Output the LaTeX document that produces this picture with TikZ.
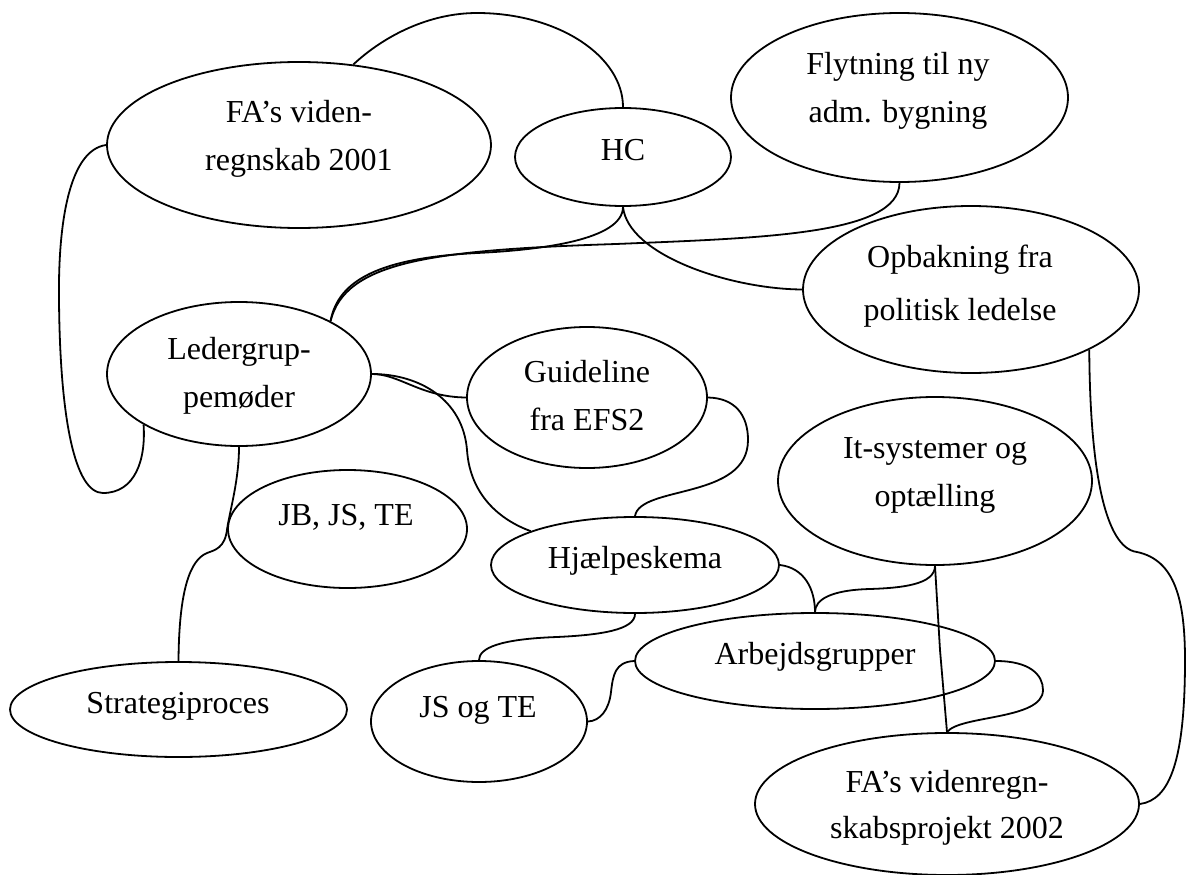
\documentclass[tikz,border=0pt]{standalone}
\usepackage{fontspec}
\setmainfont{Liberation Serif}
\usetikzlibrary{shapes.geometric}
\begin{document}
\begin{tikzpicture}[x=1pt,y=-1pt,
  bubble/.style={ellipse, draw, line width=1.8pt, inner sep=0pt},
  conn/.style={draw, line width=1.8pt},
  lbl/.style={anchor=base, align=center, inner sep=0pt,
              font=\fontsize{32}{48}\selectfont}]
\useasboundingbox (0,0) rectangle (1186,875);

% ellipses
\node[bubble, minimum width=384pt, minimum height=166pt] (fa1) at (299,145) {};
\node[bubble, minimum width=216pt, minimum height=98pt]  (hc)  at (623,157) {};
\node[bubble, minimum width=337pt, minimum height=169pt] (fly) at (899.5,97.5) {};
\node[bubble, minimum width=336pt, minimum height=167pt] (opb) at (971,289.5) {};
\node[bubble, minimum width=264pt, minimum height=144pt] (led) at (239,374) {};
\node[bubble, minimum width=240pt, minimum height=141pt] (gui) at (587,397.5) {};
\node[bubble, minimum width=314pt, minimum height=168pt] (its) at (935,481) {};
\node[bubble, minimum width=239pt, minimum height=118pt] (jb)  at (347.5,529) {};
\node[bubble, minimum width=288pt, minimum height=96pt]  (hjl) at (635,565) {};
\node[bubble, minimum width=360pt, minimum height=96pt]  (arb) at (815,661) {};
\node[bubble, minimum width=216pt, minimum height=121pt] (jst) at (479,721.5) {};
\node[bubble, minimum width=337pt, minimum height=95pt]  (str) at (178.5,709.5) {};
\node[bubble, minimum width=384pt, minimum height=142pt] (fa2) at (947,804) {};

% labels (base = baseline of the last line)
\node[lbl] (fa1t) at (299,170) {FA’s viden-\\regnskab 2001};
\node[lbl] (hct)  at (623,160) {HC};
\node[lbl] (flyt) at (898,122) {Flytning til ny\\adm. bygning};
\node[lbl] (opbt) at (960,320) {Opbakning fra\\[5pt]politisk ledelse};
\node[lbl] (ledt) at (239,407) {Ledergrup-\\pemøder};
\node[lbl] (guit) at (587,430) {Guideline\\fra EFS2};
\node[lbl] (itst) at (935,506) {It-systemer og\\optælling};
\node[lbl] (jbt)  at (346,525) {JB, JS, TE};
\node[lbl] (hjlt) at (635,568) {Hjælpeskema};
\node[lbl] (arbt) at (815,664) {Arbejdsgrupper};
\node[lbl] (jstt) at (478,717) {JS og TE};
\node[lbl] (strt) at (178,713) {Strategiproces};
\node[lbl] (fa2t) at (947,838) {FA’s videnregn-\\[-2pt]skabsprojekt 2002};

% connectors
\draw[conn] (fa1.56) .. controls (385,35) and (430,13) .. (477,13)
            .. controls (558,13) and (623,56) .. (hc.north);
\draw[conn] (fa1.west) .. controls (70,150) and (58,220) .. (59,300)
            .. controls (60,420) and (75,493) .. (103,493)
            .. controls (135,493) and (146,460) .. (led.208);
\draw[conn] (hc.south) .. controls (623,240) and (540,250) .. (477,253)
            .. controls (380,258) and (338,280) .. (led.30);
\draw[conn] (fly.south) .. controls (899,235) and (760,238) .. (616,244)
            .. controls (430,250) and (345,262) .. (led.30);
\draw[conn] (hc.south) .. controls (628,255) and (730,289) .. (opb.west);
\draw[conn] (led.east) .. controls (400,374) and (420,397) .. (gui.west);
\draw[conn] (led.east) .. controls (420,374) and (463,400) .. (467,450)
            .. controls (470,495) and (500,520) .. (hjl.162);
\draw[conn] (gui.east) .. controls (735,398) and (748,415) .. (748,440)
            .. controls (748,500) and (640,485) .. (hjl.north);
\draw[conn] (hjl.east) .. controls (805,568) and (815,590) .. (arb.north);
\draw[conn] (its.south) .. controls (935,585) and (900,588) .. (870,589)
            .. controls (830,590) and (815,600) .. (arb.north);
\draw[conn] (its.south) -- (940,650) -- (fa2.north);
\draw[conn] (arb.east) .. controls (1030,661) and (1043,675) .. (1043,690)
            .. controls (1043,720) and (960,715) .. (fa2.north);
\draw[conn] (arb.west) .. controls (615,662) and (613,675) .. (611,692)
            .. controls (609,710) and (600,721) .. (jst.east);
\draw[conn] (hjl.south) .. controls (635,630) and (600,635) .. (557,637)
            .. controls (500,639) and (479,648) .. (jst.north);
\draw[conn] (led.south) .. controls (239,480) and (230,510) .. (jb.west);
\draw[conn] (jb.west) .. controls (225,548) and (215,550) .. (207,553)
            .. controls (190,560) and (179,590) .. (str.north);
\draw[conn] (opb.333) .. controls (1090,470) and (1105,548) .. (1137,552)
            .. controls (1175,560) and (1185,600) .. (1185,660)
            .. controls (1185,760) and (1170,800) .. (fa2.east);
\end{tikzpicture}
\end{document}
